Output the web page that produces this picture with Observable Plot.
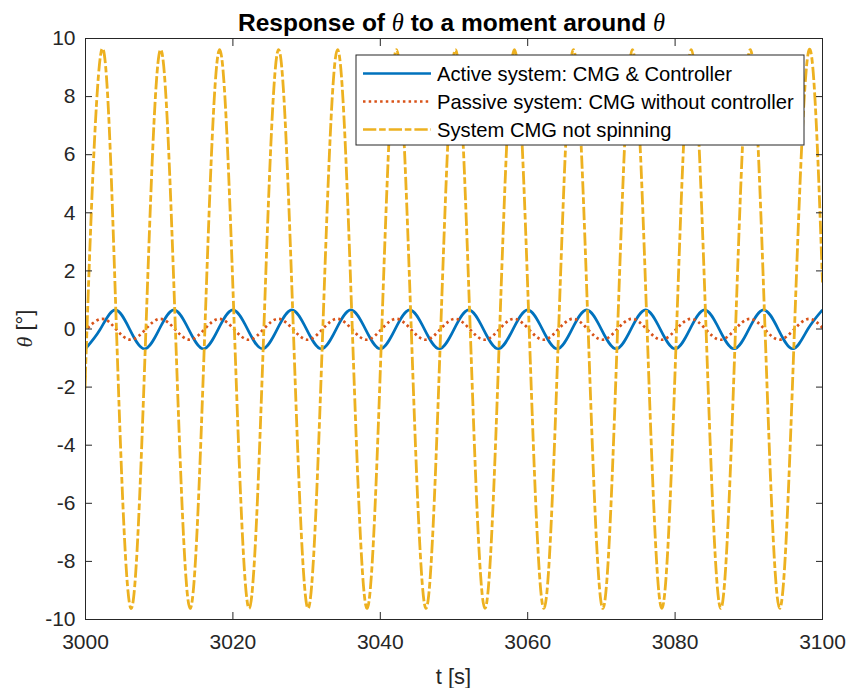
<!DOCTYPE html>
<html>
<head>
<meta charset="utf-8">
<script src="https://cdn.jsdelivr.net/npm/d3@7"></script>
<script src="https://cdn.jsdelivr.net/npm/@observablehq/plot@0.6"></script>
<style>
  html, body { margin: 0; padding: 0; background: #ffffff; }
  #chart { width: 849px; height: 688px; }
</style>
</head>
<body>
<div id="chart"></div>
<script>
// ---- Data (key points: extrema and zero crossings) ----
const xTicks = [3000, 3020, 3040, 3060, 3080, 3100];
const yTicks = [-10, -8, -6, -4, -2, 0, 2, 4, 6, 8, 10];

const seriesNames = [
  "Active system: CMG & Controller",
  "Passive system: CMG without controller",
  "System CMG not spinning"
];

// Active system (blue)
const tActive = [3000,3002,3004,3006,3008,3010,3012,3014,3016,3018,3020,3022,3024,3026,3028,3030,3032,3034,3036,3038,3040,3042,3044,3046,3048,3050,3052,3054,3056,3058,3060,3062,3064,3066,3068,3070,3072,3074,3076,3078,3080,3082,3084,3086,3088,3090,3092,3094,3096,3098,3100];
const thetaActive = [-0.68,-0.01,0.66,-0.01,-0.68,-0.01,0.66,-0.01,-0.68,-0.01,0.66,-0.01,-0.68,-0.01,0.66,-0.01,-0.68,-0.01,0.66,-0.01,-0.68,-0.01,0.66,-0.01,-0.68,-0.01,0.66,-0.01,-0.68,-0.01,0.66,-0.01,-0.68,-0.01,0.66,-0.01,-0.68,-0.01,0.66,-0.01,-0.68,-0.01,0.66,-0.01,-0.68,-0.01,0.66,-0.01,-0.68,-0.01,0.66];

// Passive system (orange, dotted)
const tPassive = [3000,3000.15,3002.15,3004.15,3006.15,3008.15,3010.15,3012.15,3014.15,3016.15,3018.15,3020.15,3022.15,3024.15,3026.15,3028.15,3030.15,3032.15,3034.15,3036.15,3038.15,3040.15,3042.15,3044.15,3046.15,3048.15,3050.15,3052.15,3054.15,3056.15,3058.15,3060.15,3062.15,3064.15,3066.15,3068.15,3070.15,3072.15,3074.15,3076.15,3078.15,3080.15,3082.15,3084.15,3086.15,3088.15,3090.15,3092.15,3094.15,3096.15,3098.15,3100];
const thetaPassive = [-0.05,-0.01,0.35,-0.01,-0.37,-0.01,0.35,-0.01,-0.37,-0.01,0.35,-0.01,-0.37,-0.01,0.35,-0.01,-0.37,-0.01,0.35,-0.01,-0.37,-0.01,0.35,-0.01,-0.37,-0.01,0.35,-0.01,-0.37,-0.01,0.35,-0.01,-0.37,-0.01,0.35,-0.01,-0.37,-0.01,0.35,-0.01,-0.37,-0.01,0.35,-0.01,-0.37,-0.01,0.35,-0.01,-0.37,-0.01,0.35,0.04];

// CMG not spinning (yellow, dash-dot)
const tNotSpinning = [3000,3000.2,3002.2,3004.2,3006.2,3008.2,3010.2,3012.2,3014.2,3016.2,3018.2,3020.2,3022.2,3024.2,3026.2,3028.2,3030.2,3032.2,3034.2,3036.2,3038.2,3040.2,3042.2,3044.2,3046.2,3048.2,3050.2,3052.2,3054.2,3056.2,3058.2,3060.2,3062.2,3064.2,3066.2,3068.2,3070.2,3072.2,3074.2,3076.2,3078.2,3080.2,3082.2,3084.2,3086.2,3088.2,3090.2,3092.2,3094.2,3096.2,3098.2,3100];
const thetaNotSpinning = [-1.6,0,9.62,0,-9.62,0,9.62,0,-9.62,0,9.62,0,-9.62,0,9.62,0,-9.62,0,9.62,0,-9.62,0,9.62,0,-9.62,0,9.62,0,-9.62,0,9.62,0,-9.62,0,9.62,0,-9.62,0,9.62,0,-9.62,0,9.62,0,-9.62,0,9.62,0,-9.62,0,9.62,1.6];

const colors = ["#0072BD", "#D95319", "#EDB120"];
const dashes = [null, "2.5,3.2", "13.3,2.8,6.6,3"];

const zip = (ts, vs) => ts.map((t, i) => ({t, v: vs[i]}));
const active = zip(tActive, thetaActive);
const passive = zip(tPassive, thetaPassive);
const notSpinning = zip(tNotSpinning, thetaNotSpinning);

const FONT = "'Liberation Sans', Arial, Helvetica, sans-serif";
const INK = "#262626";
const fmt = d => String(d);

const chart = Plot.plot({
  width: 849,
  height: 688,
  marginLeft: 85,
  marginRight: 27,
  marginTop: 38,
  marginBottom: 69,
  style: {fontFamily: FONT, fontSize: "21px", color: INK, background: "#ffffff", overflow: "visible"},
  x: {domain: [3000, 3100]},
  y: {domain: [-10, 10]},
  marks: [
    Plot.line(active, {x: "t", y: "v", stroke: colors[0], strokeWidth: 2.7, strokeLinecap: "butt", curve: "natural", clip: true}),
    Plot.line(passive, {x: "t", y: "v", stroke: colors[1], strokeWidth: 2.7, strokeLinecap: "butt", strokeDasharray: dashes[1], curve: "natural", clip: true}),
    Plot.line(notSpinning, {x: "t", y: "v", stroke: colors[2], strokeWidth: 2.8, strokeLinecap: "butt", strokeDasharray: dashes[2], curve: "natural", clip: true}),
    Plot.frame({stroke: INK, strokeWidth: 1}),
    Plot.axisX(xTicks, {anchor: "bottom", tickSize: 0, tickPadding: 15, tickFormat: fmt, label: null, fontSize: 21, fill: INK}),
    Plot.axisX(xTicks, {anchor: "bottom", tickSize: -7, fill: "none", stroke: INK, label: null}),
    Plot.axisX(xTicks, {anchor: "top", tickSize: -7, fill: "none", stroke: INK, label: null}),
    Plot.axisY(yTicks, {anchor: "left", tickSize: 0, tickPadding: 10, tickFormat: fmt, label: null, fontSize: 21, fill: INK}),
    Plot.axisY(yTicks, {anchor: "left", tickSize: -7, fill: "none", stroke: INK, label: null}),
    Plot.axisY(yTicks, {anchor: "right", tickSize: -7, fill: "none", stroke: INK, label: null})
  ]
});

document.getElementById("chart").appendChild(chart);

// ---- Title, axis labels and legend ----
const svg = d3.select(chart);
const W = 849;
const plotLeft = 85, plotRight = W - 27, plotTop = 38, plotBottom = 688 - 69;
const cx = (plotLeft + plotRight) / 2;
const SERIF = "'Liberation Serif', 'DejaVu Serif', serif";

const title = svg.append("text")
  .attr("x", cx - 2).attr("y", 31)
  .attr("text-anchor", "middle")
  .attr("fill", "#000")
  .style("font-family", FONT).style("font-size", "24.5px").style("font-weight", "bold");
title.append("tspan").text("Response of ");
title.append("tspan").style("font-family", SERIF).style("font-style", "italic").style("font-weight", "normal").text("θ");
title.append("tspan").text(" to a moment around ");
title.append("tspan").style("font-family", SERIF).style("font-style", "italic").style("font-weight", "normal").text("θ");

svg.append("text")
  .attr("x", cx).attr("y", 684)
  .attr("text-anchor", "middle")
  .attr("fill", INK)
  .style("font-family", FONT).style("font-size", "22px")
  .text("t [s]");

const yl = svg.append("text")
  .attr("transform", `translate(32, ${(plotTop + plotBottom) / 2}) rotate(-90)`)
  .attr("text-anchor", "middle")
  .attr("fill", INK)
  .style("font-family", FONT).style("font-size", "22px");
yl.append("tspan").style("font-family", SERIF).style("font-style", "italic").text("θ");
yl.append("tspan").text(" [°]");

// Legend
const lg = svg.append("g");
const lx0 = 356, ly0 = 55, lw = 448, lh = 90;
lg.append("rect").attr("x", lx0).attr("y", ly0).attr("width", lw).attr("height", lh)
  .attr("fill", "#fff").attr("stroke", INK).attr("stroke-width", 1);
seriesNames.forEach((name, i) => {
  const yy = ly0 + 18.5 + i * 28;
  lg.append("line")
    .attr("x1", lx0 + 7).attr("x2", lx0 + 75)
    .attr("y1", yy).attr("y2", yy)
    .attr("stroke", colors[i]).attr("stroke-width", 2.7)
    .attr("stroke-linecap", "butt")
    .attr("stroke-dasharray", dashes[i]);
  lg.append("text")
    .attr("x", lx0 + 81).attr("y", yy)
    .attr("dy", "0.35em")
    .attr("text-anchor", "start")
    .attr("fill", "#000")
    .style("font-family", FONT).style("font-size", "20.2px")
    .text(name);
});
</script>
</body>
</html>
